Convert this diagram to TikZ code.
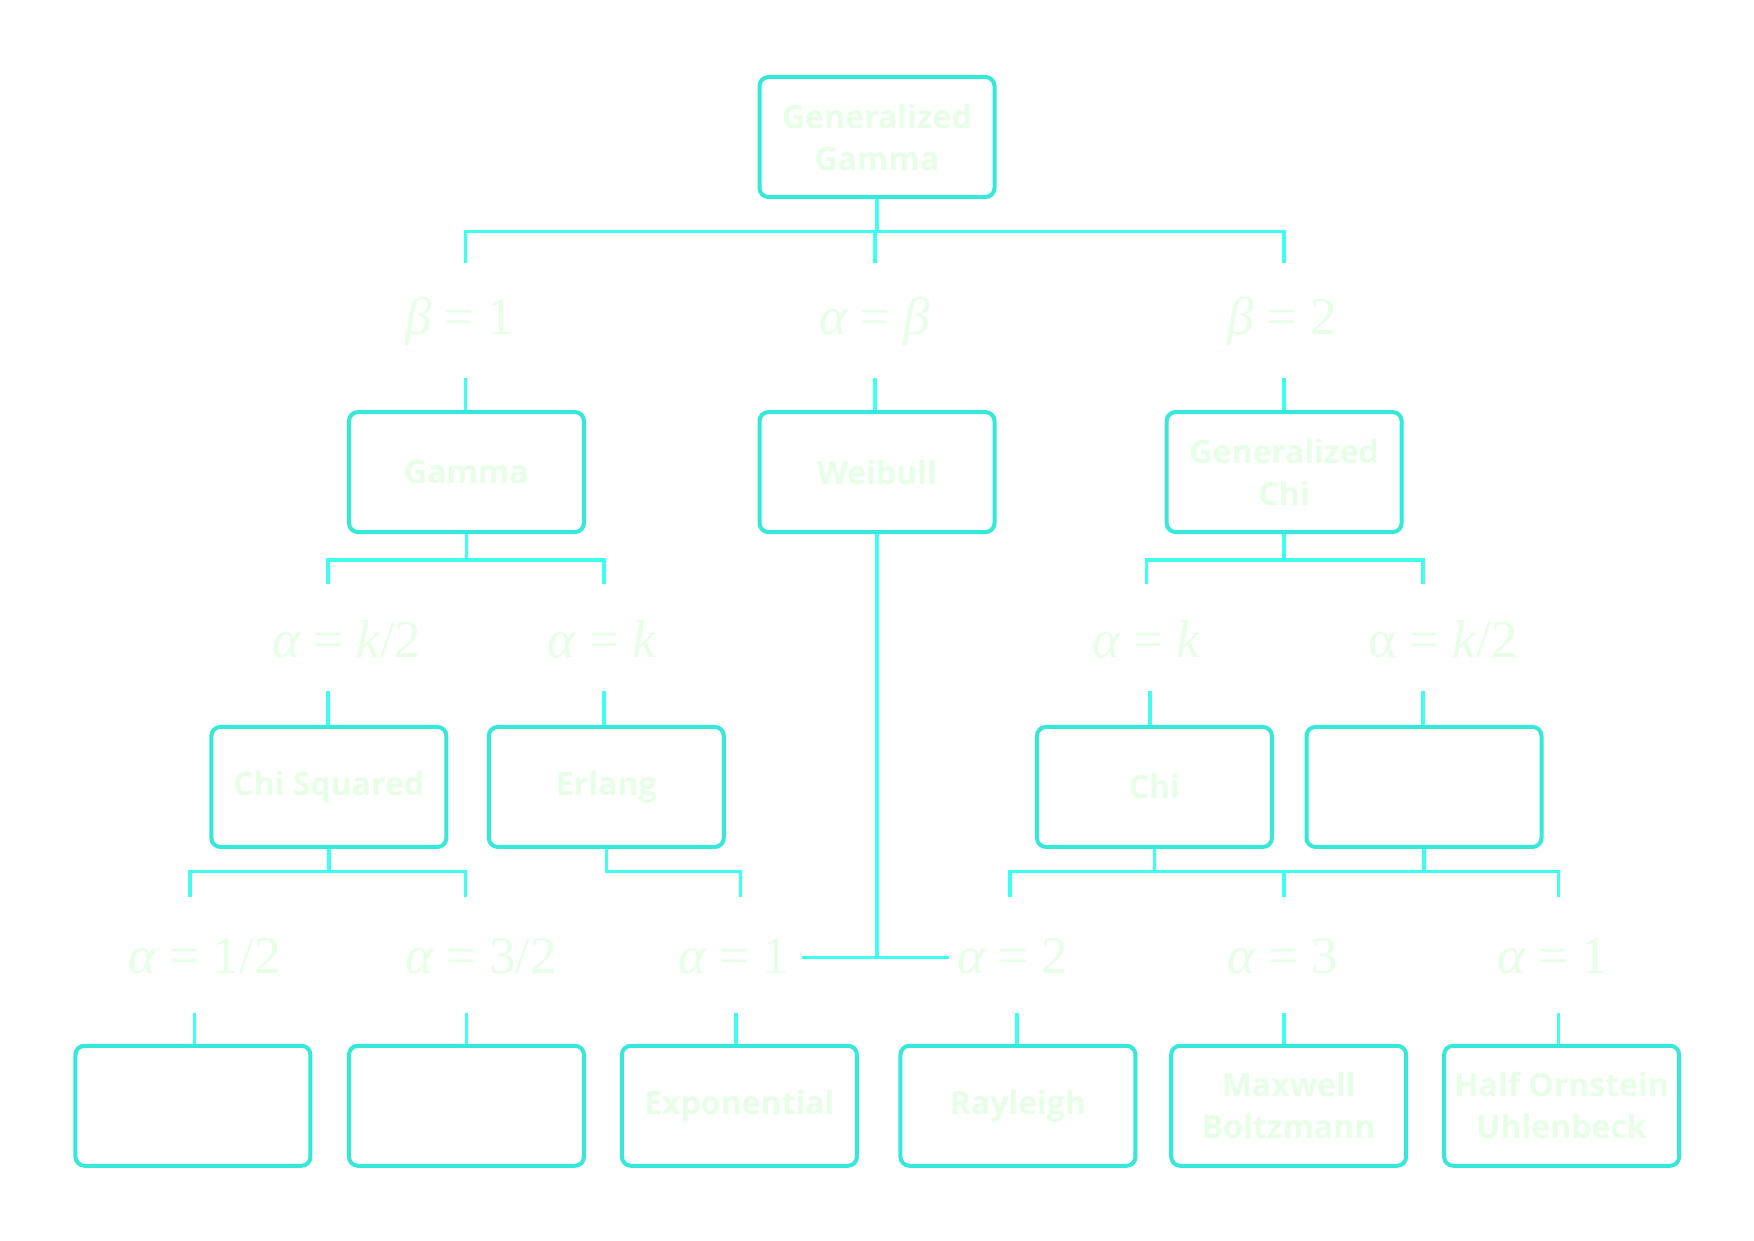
\documentclass[tikz,border=0pt]{standalone}
\usepackage{fontspec}
\setmainfont{Open Sans}
\newfontfamily\serifm{Liberation Serif}
\definecolor{boxc}{HTML}{35E8DA}
\definecolor{connc}{HTML}{3EFFF2}
\definecolor{txtc}{HTML}{E6FFE6}
\begin{document}
\begin{tikzpicture}[x=1.1186pt,y=-1.1186pt,
  dist/.style={draw=boxc, line width=4pt, rounded corners=9pt, minimum width=235pt, minimum height=120pt, align=center, text=txtc, font=\bfseries\fontsize{32}{42}\selectfont, inner sep=0pt},
  cond/.style={text=txtc, font=\serifm\fontsize{53}{60}\selectfont, inner sep=0pt},
  conn/.style={draw=connc, line width=3.5pt}]
\fill[white] (0,0) rectangle (1568,1109);
% boxes
\node[dist] (root) at (784,122.5) {Generalized\\Gamma};
\node[dist] (gamma) at (417,422) {Gamma};
\node[dist] (weibull) at (784,422) {Weibull};
\node[dist] (gchi) at (1148,422) {Generalized\\Chi};
\node[dist] (chisq) at (294,703.5) {Chi Squared};
\node[dist] (erlang) at (542,703.5) {Erlang};
\node[dist] (chi) at (1032,703.5) {Chi};
\node[dist] (er) at (1273,703.5) {};
\node[dist] (bA) at (172.5,988.5) {};
\node[dist] (bB) at (417,988.5) {};
\node[dist] (expo) at (661,988.5) {Exponential};
\node[dist] (ray) at (910,988.5) {Rayleigh};
\node[dist] (maxw) at (1152,988.5) {Maxwell\\Boltzmann};
\node[dist] (hou) at (1396,988.5) {Half Ornstein\\Uhlenbeck};
% labels
\node[cond] (c1) at (411,287) {{\itshape β} = 1};
\node[cond] (c2) at (782,287) {{\itshape α} = {\itshape β}};
\node[cond] (c3) at (1146,287) {{\itshape β} = 2};
\node[cond] (c4) at (310,572) {{\itshape α} = {\itshape k}/2};
\node[cond] (c5) at (538,572) {{\itshape α} = {\itshape k}};
\node[cond] (c6) at (1025,572) {{\itshape α} = {\itshape k}};
\node[cond] (c7) at (1290,572) {α = {\itshape k}/2};
\node[cond] (c8) at (183,855) {{\itshape α} = 1/2};
\node[cond] (c9) at (430,855) {{\itshape α} = 3/2};
\node[cond] (c10) at (656,855) {{\itshape α} = 1};
\node[cond] (c11) at (905,855) {{\itshape α} = 2};
\node[cond] (c12) at (1147,855) {{\itshape α} = 3};
\node[cond] (c13) at (1388,855) {{\itshape α} = 1};
% connector coordinates
\coordinate (t1) at (416,235); \coordinate (t2) at (782,235); \coordinate (t3) at (1148,235);
\coordinate (s1) at (416,338); \coordinate (s2) at (782,338); \coordinate (s3) at (1148,338);
\coordinate (t4) at (293,522); \coordinate (t5) at (540,522);
\coordinate (t6) at (1025,522); \coordinate (t7) at (1272,522);
\coordinate (s4) at (293,618); \coordinate (s5) at (540,618);
\coordinate (s6) at (1028,618); \coordinate (s7) at (1272,618);
\coordinate (t8) at (170,802); \coordinate (t9) at (416,802); \coordinate (t10) at (662,802);
\coordinate (t11) at (903,802); \coordinate (t12) at (1148,802); \coordinate (t13) at (1393,802);
\coordinate (s8) at (174,906); \coordinate (s9) at (417,906); \coordinate (s10) at (658,906);
\coordinate (s11) at (909,906); \coordinate (s12) at (1148,906); \coordinate (s13) at (1393,906);
\coordinate (wj) at (782,856); \coordinate (wl) at (717,856); \coordinate (wr) at (848,856);
% connectors
\draw[conn] (root.south) -- ++(0,29) -| (t1);
\draw[conn] (root.south) -- ++(0,29) -| (t2);
\draw[conn] (root.south) -- ++(0,29) -| (t3);
\draw[conn] (s1) -- (s1 |- gamma.north);
\draw[conn] (s2) -- (s2 |- weibull.north);
\draw[conn] (s3) -- (s3 |- gchi.north);
\draw[conn] (gamma.south) -- ++(0,23) -| (t4);
\draw[conn] (gamma.south) -- ++(0,23) -| (t5);
\draw[conn] (gchi.south) -- ++(0,23) -| (t6);
\draw[conn] (gchi.south) -- ++(0,23) -| (t7);
\draw[conn] (s4) -- (s4 |- chisq.north);
\draw[conn] (s5) -- (s5 |- erlang.north);
\draw[conn] (s6) -- (s6 |- chi.north);
\draw[conn] (s7) -- (s7 |- er.north);
\draw[conn] (chisq.south) -- ++(0,20) -| (t8);
\draw[conn] (chisq.south) -- ++(0,20) -| (t9);
\draw[conn] (erlang.south) -- ++(0,20) -| (t10);
\draw[conn] (chi.south) -- ++(0,20) -| (t11);
\draw[conn] (chi.south) -- ++(0,20) -| (t12);
\draw[conn] (chi.south) -- ++(0,20) -| (t13);
\draw[conn] (er.south) -- ++(0,20);
\draw[conn] (weibull.south) -- (weibull.south |- wj);
\draw[conn] (wl) -- (wr);
\draw[conn] (s8) -- (s8 |- bA.north);
\draw[conn] (s9) -- (s9 |- bB.north);
\draw[conn] (s10) -- (s10 |- expo.north);
\draw[conn] (s11) -- (s11 |- ray.north);
\draw[conn] (s12) -- (s12 |- maxw.north);
\draw[conn] (s13) -- (s13 |- hou.north);
\end{tikzpicture}
\end{document}
